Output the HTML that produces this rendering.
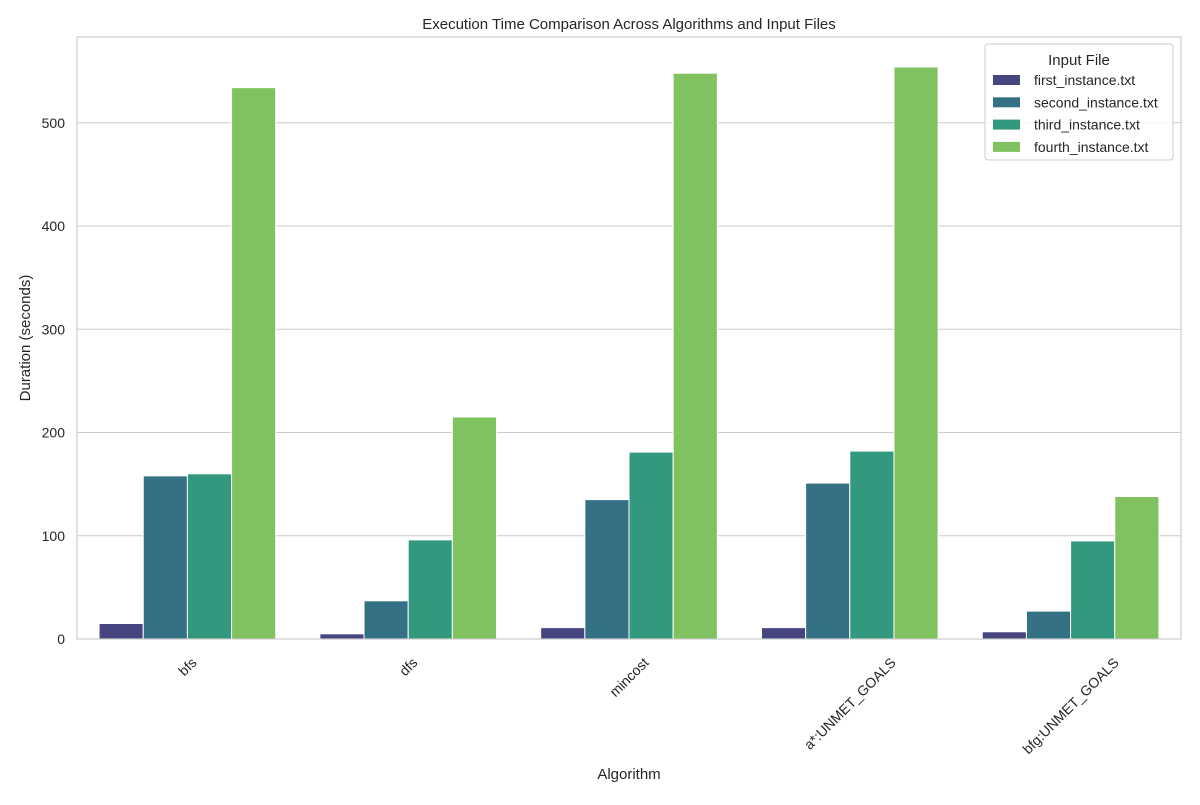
<!DOCTYPE html>
<html><head><meta charset="utf-8"><style>body{margin:0;background:#fff}svg{font-family:"Liberation Sans",sans-serif}</style></head>
<body>
<svg id="c" width="1200" height="800"></svg>
<script>
const categories=["bfs","dfs","mincost","a*:UNMET_GOALS","bfg:UNMET_GOALS"];
const seriesNames=["first_instance.txt","second_instance.txt","third_instance.txt","fourth_instance.txt"];
const first=[15,5,11,11,7];
const second=[158,37,135,151,27];
const third=[160,96,181,182,95];
const fourth=[534,215,548,554,138];
const yTicks=[0,100,200,300,400,500];
const series=[first,second,third,fourth];
const colors=["#46457f","#357184","#33997e","#7fc25f"];
const NS="http://www.w3.org/2000/svg";
const svg=document.getElementById("c");
function mk(t,a,p){const e=document.createElementNS(NS,t);for(const k in a)e.setAttribute(k,a[k]);(p||svg).appendChild(e);return e;}
const L=77,R=1181,T=37,B=639;
const y=v=>B-v*1.0325;
const bw=(R-L)/categories.length;
const x=i=>L+bw*(i+0.5);
for(const t of yTicks){
  const g=mk("line",{x1:L,x2:R,y1:y(t),y2:y(t),stroke:"#cccccc","stroke-width":1});
  
  
  const tx=mk("text",{x:L-12,y:y(t)+5,"text-anchor":"end","font-size":14,fill:"#262626"});
  tx.textContent=t;
  
  
}
const barW=bw*0.8/4;
series.forEach((s,si)=>{
  s.forEach((v,ci)=>{
    const bx=x(ci)-bw*0.4+si*barW;
    const r=mk("rect",{x:bx,y:y(v),width:barW,height:B-y(v),fill:colors[si],stroke:"#fff","stroke-width":1});
    
    
  });
});
categories.forEach((c,i)=>{
  const t=mk("text",{x:0,y:0,"text-anchor":"middle","font-size":14,fill:"#262626"});
  t.textContent=c;
  
  
  const len=t.getComputedTextLength();
  const cx=x(i), cy=B+16+len*0.3536+5;
  t.setAttribute('x',cx);
  t.setAttribute('y',cy+5);
  t.setAttribute('transform',`rotate(-45 ${cx} ${cy})`);
});
const fr=mk("rect",{x:L,y:T,width:R-L,height:B-T,fill:"none",stroke:"#cccccc","stroke-width":1.2});


const ti=mk("text",{x:(L+R)/2,y:29,"text-anchor":"middle","font-size":15,fill:"#262626"});
ti.textContent="Execution Time Comparison Across Algorithms and Input Files";


const xl=mk("text",{x:(L+R)/2,y:779,"text-anchor":"middle","font-size":15,fill:"#262626"});
xl.textContent="Algorithm";


const yl=mk("text",{x:30,y:(T+B)/2,"text-anchor":"middle","font-size":15,fill:"#262626",transform:`rotate(-90 30 ${(T+B)/2})`});
yl.textContent="Duration (seconds)";


const lg=mk("g",{});


mk("rect",{x:985,y:44,width:188,height:116,rx:3,fill:"#fff",stroke:"#cccccc","fill-opacity":0.8},lg);
const lt=mk("text",{x:1079,y:65,"text-anchor":"middle","font-size":15,fill:"#262626"},lg);
lt.textContent="Input File";
seriesNames.forEach((n,i)=>{
  const yy=80+i*22.3;
  const sw=mk("rect",{x:993,y:yy-5,width:27,height:10,fill:colors[i]},lg);
  
  
  const t=mk("text",{x:1034,y:yy+5,"font-size":14,fill:"#262626"},lg);
  t.textContent=n;
  
  
});
</script>
</body></html>
